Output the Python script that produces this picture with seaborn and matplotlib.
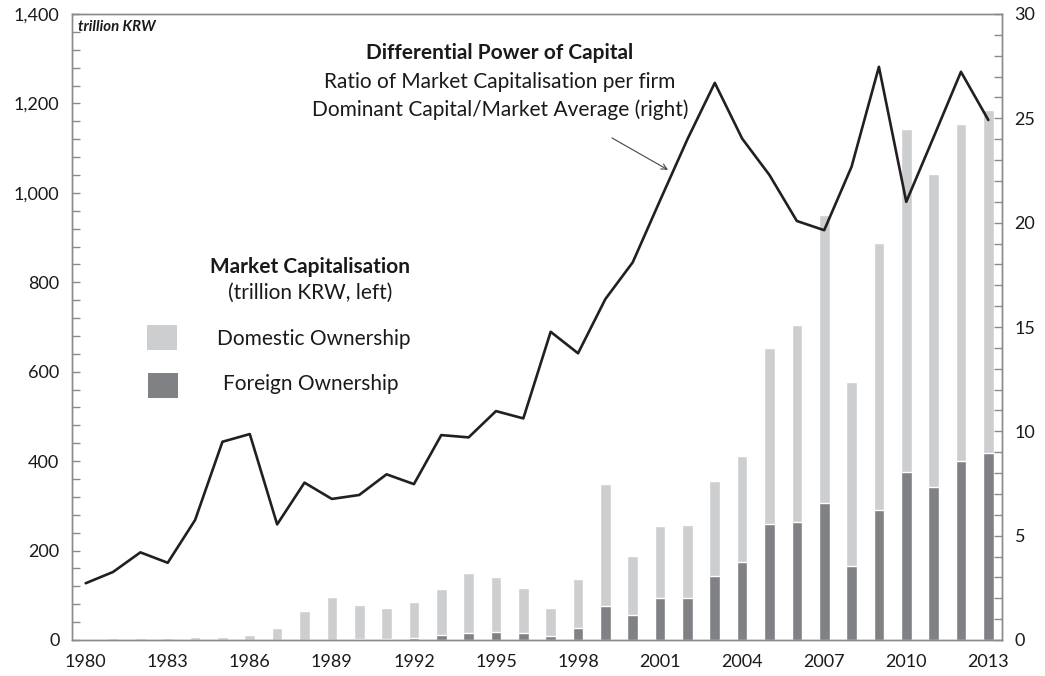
import numpy as np
import pandas as pd
import matplotlib
matplotlib.use("Agg")
import matplotlib.pyplot as plt
from matplotlib.patches import Rectangle
from matplotlib.ticker import MultipleLocator, FixedLocator
import seaborn as sns

# years on the x axis
years = list(range(1980, 2014))

# market capitalisation, trillion KRW (left axis)
domestic = [1.5, 3.7, 3.7, 3.7, 6, 6, 11, 27, 65, 95, 76, 69, 80, 101, 135, 123, 100, 61,
            110, 273, 130, 162, 163, 212, 238, 395, 440, 644, 412, 598, 766, 700, 753, 767]
foreign = [0, 0, 0, 0, 0, 0, 0, 0, 0, 0.5, 2, 3, 4, 12, 15.6, 18, 15.6, 9.6,
           27, 76, 57, 94, 94, 143, 174, 259, 264, 307, 165, 290, 376, 342, 400, 418]

# differential power of capital ratio (right axis)
dpc_ratio = [2.72, 3.26, 4.2, 3.7, 5.75, 9.5, 9.87, 5.54, 7.54, 6.76, 6.95, 7.94, 7.47, 9.82,
             9.71, 10.97, 10.62, 14.77, 13.74, 16.34, 18.1, 21.07, 24.0, 26.7, 24.03, 22.28,
             20.08, 19.64, 22.68, 27.47, 21.0, 24.1, 27.23, 24.92]

light_grey = "#cdced0"
dark_grey = "#808185"
line_col = "#231f20"
frame_col = "#8a8a8a"
txt_col = "#1a1a1a"

sns.set_style("white")
plt.rcParams["font.family"] = ["Lato", "DejaVu Sans"]

df = pd.DataFrame({"year": [str(y) for y in years],
                   "total": np.array(domestic) + np.array(foreign),
                   "foreign": foreign,
                   "pos": np.arange(len(years)),
                   "ratio": dpc_ratio})

fig = plt.figure(figsize=(10.45, 6.76), dpi=100)
ax = fig.add_axes([72 / 1045, 36 / 676, 930 / 1045, 626 / 676])

# stacked bars: full height in light grey, foreign share drawn over it
sns.barplot(data=df, x="year", y="total", color=light_grey, width=0.39,
            saturation=1, ax=ax)
sns.barplot(data=df, x="year", y="foreign", color=dark_grey, width=0.39,
            saturation=1, ax=ax)
ax.set_xlim(-0.5, len(years) - 0.5)
ax.set_ylim(0, 1400)

ax2 = ax.twinx()
sns.lineplot(data=df, x="pos", y="ratio", color=line_col, linewidth=1.9, ax=ax2)
ax2.set_ylim(0, 30)
ax2.set_xlim(-0.5, len(years) - 0.5)

# axes formatting
ax.set_xlabel("")
ax.set_ylabel("")
ax2.set_xlabel("")
ax2.set_ylabel("")
ax.xaxis.set_major_locator(FixedLocator(np.arange(0, len(years), 3)))
ax.set_xticklabels([str(y) for y in years[::3]])
ax.xaxis.set_minor_locator(FixedLocator(np.arange(0.5, len(years) - 1, 1)))
ax.yaxis.set_major_locator(MultipleLocator(200))
ax.yaxis.set_minor_locator(MultipleLocator(40))
ax.set_yticklabels([f"{int(v):,}" for v in ax.get_yticks()])
ax2.yaxis.set_major_locator(MultipleLocator(5))
ax2.yaxis.set_minor_locator(MultipleLocator(1))

ax.tick_params(axis="x", which="major", length=0, pad=10, labelsize=13, labelcolor=txt_col)
ax.tick_params(axis="x", which="minor", direction="in", length=5, color=frame_col, width=1)
ax.tick_params(axis="y", which="both", direction="in", length=6, color=frame_col, width=1,
               labelsize=13, labelcolor=txt_col, pad=9)
ax2.tick_params(axis="y", which="both", direction="in", length=6, color=frame_col, width=1,
                labelsize=13, labelcolor=txt_col, pad=9)
ax2.tick_params(axis="x", which="both", length=0, labelbottom=False)

for a in (ax, ax2):
    for sp in a.spines.values():
        sp.set_color(frame_col)
        sp.set_linewidth(1)
        sp.set_visible(True)

# annotations
ax.text(0.0065, 0.979, "trillion KRW", transform=ax.transAxes, ha="left", va="center",
        fontsize=10.8, fontweight="bold", fontstyle="italic", color=txt_col)

ax.text(0.460, 0.9377, "Differential Power of Capital", transform=ax.transAxes,
        ha="center", va="center", fontsize=15, fontweight="bold", color=txt_col)
ax.text(0.460, 0.891, "Ratio of Market Capitalisation per firm", transform=ax.transAxes,
        ha="center", va="center", fontsize=15, color=txt_col)
ax.text(0.460, 0.8466, "Dominant Capital/Market Average (right)", transform=ax.transAxes,
        ha="center", va="center", fontsize=15, color=txt_col)
ax.annotate("", xy=(0.6409, 0.751), xytext=(0.5806, 0.802), xycoords="axes fraction",
            textcoords="axes fraction",
            arrowprops=dict(arrowstyle="->", color="#444444", lw=0.8, shrinkA=0, shrinkB=0))

ax.text(0.256, 0.596, "Market Capitalisation", transform=ax.transAxes,
        ha="center", va="center", fontsize=15, fontweight="bold", color=txt_col)
ax.text(0.256, 0.554, "(trillion KRW, left)", transform=ax.transAxes,
        ha="center", va="center", fontsize=15, color=txt_col)

ax.add_patch(Rectangle((0.0806, 0.4633), 0.0323, 0.040, transform=ax.transAxes,
                       facecolor=light_grey, edgecolor="none"))
ax.add_patch(Rectangle((0.0817, 0.3866), 0.0323, 0.040, transform=ax.transAxes,
                       facecolor=dark_grey, edgecolor="none"))
ax.text(0.260, 0.4808, "Domestic Ownership", transform=ax.transAxes,
        ha="center", va="center", fontsize=15, color=txt_col)
ax.text(0.257, 0.409, "Foreign Ownership", transform=ax.transAxes,
        ha="center", va="center", fontsize=15, color=txt_col)

fig.savefig("out.png", dpi=100)
